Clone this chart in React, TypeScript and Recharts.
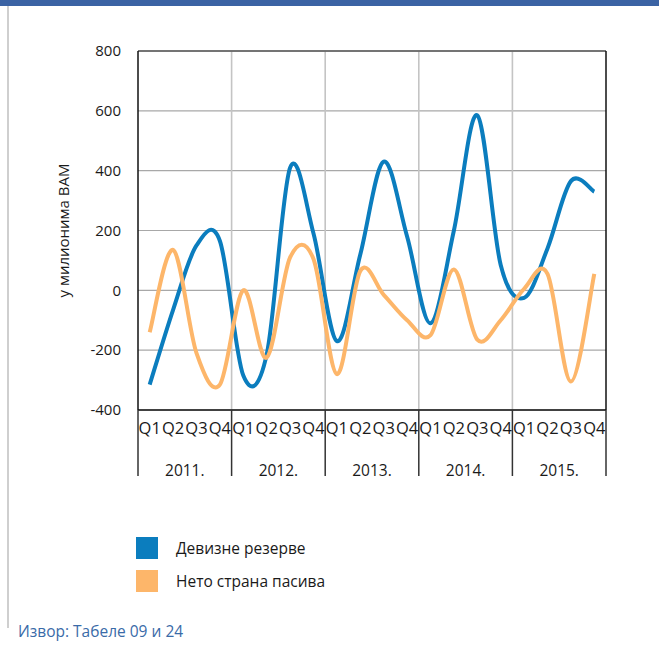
import React from "react";
import { LineChart, Line, XAxis, YAxis, CartesianGrid, ReferenceLine, Legend } from "recharts";

const quarterLabels = ["Q1", "Q2", "Q3", "Q4"];
const yearLabels = ["2011.", "2012.", "2013.", "2014.", "2015."];
const reserves = [-315, -65, 150, 165, -285, -215, 410, 190, -170, 120, 430, 180, -110, 200, 585, 85, -25, 140, 365, 330];
const netForeign = [-140, 135, -210, -315, 0, -225, 110, 105, -280, 65, -15, -100, -150, 70, -165, -100, 5, 55, -305, 55];
const yTicks = [-400, -200, 0, 200, 400, 600, 800];
const seriesNames = ["Девизне резерве", "Нето страна пасива"];
const colors = ["#0b7dbe", "#fdb66a"];

const FONT = "'Open Sans', 'Noto Sans', sans-serif";

const data = reserves.map((v, i) => ({
  pos: i + 0.5,
  reserves: v,
  netForeign: netForeign[i],
}));

const nQ = quarterLabels.length;
const total = yearLabels.length * nQ;
const xTicks: number[] = [];
for (let y = 0; y <= yearLabels.length; y++) {
  xTicks.push(y * nQ);
  if (y < yearLabels.length) {
    for (let q = 0; q < nQ; q++) {
      xTicks.push(y * nQ + q + 0.5);
      if (q === 1) xTicks.push(y * nQ + nQ / 2);
    }
  }
}
const yearBoundaries = Array.from({ length: yearLabels.length - 1 }, (_, i) => (i + 1) * nQ);

// Catmull-Rom style smoothing (like spreadsheet "smoothed line")
const smoothCurve: any = (context: any) => {
  let pts: number[][] = [];
  return {
    areaStart() {},
    areaEnd() {},
    lineStart() {
      pts = [];
    },
    point(x: number, y: number) {
      pts.push([+x, +y]);
    },
    lineEnd() {
      if (!pts.length) return;
      context.moveTo(pts[0][0], pts[0][1]);
      for (let i = 0; i < pts.length - 1; i++) {
        const p0 = pts[i - 1] || pts[i];
        const p1 = pts[i];
        const p2 = pts[i + 1];
        const p3 = pts[i + 2] || p2;
        const c1x = p1[0] + (p2[0] - p0[0]) / 6;
        const c1y = p1[1] + (p2[1] - p0[1]) / 6;
        const c2x = p2[0] - (p3[0] - p1[0]) / 6;
        const c2y = p2[1] - (p3[1] - p1[1]) / 6;
        context.bezierCurveTo(c1x, c1y, c2x, c2y, p2[0], p2[1]);
      }
    },
  };
};

const XTick = (props: any) => {
  const { x, y, payload } = props;
  const v = payload.value as number;
  if (Number.isInteger(v) && v % nQ === 0) {
    return <line x1={x} y1={y} x2={x} y2={y + 66} stroke="#333" strokeWidth={1.5} />;
  }
  if (Number.isInteger(v)) {
    const yi = Math.floor(v / nQ);
    return (
      <text x={x} y={y + 66} textAnchor="middle" fontSize={15.5} fill="#1a1a1a" fontFamily={FONT}>
        {yearLabels[yi]}
      </text>
    );
  }
  const qi = Math.floor(v) % nQ;
  return (
    <text x={x} y={y + 23.5} textAnchor="middle" fontSize={16.5} fill="#1a1a1a" fontFamily={FONT}>
      {quarterLabels[qi]}
    </text>
  );
};

const LegendContent = () => (
  <div style={{ fontFamily: FONT }}>
    {seriesNames.map((n, i) => (
      <div key={n} style={{ display: "flex", alignItems: "center", height: 22, marginBottom: i === 0 ? 11 : 0 }}>
        <div style={{ width: 22, height: 22, background: colors[i] }} />
        <span style={{ marginLeft: 18, fontSize: 15.5, color: "#1a1a1a" }}>{n}</span>
      </div>
    ))}
  </div>
);

export default function App() {
  return (
    <div style={{ position: "absolute", left: 0, top: 0, width: 659, height: 645, overflow: "hidden", background: "#fff" }}>
      <div style={{ position: "absolute", left: 0, top: 0, width: 659, height: 6, background: "#3b63a4" }} />
      <div style={{ position: "absolute", left: 7, top: 6, width: 2, height: 622, background: "#cfcfcf" }} />
      <div style={{ position: "absolute", left: 0, top: 0 }}>
        <LineChart
          width={659}
          height={645}
          data={data}
          margin={{ top: 51, right: 53, left: 78, bottom: 165 }}
          style={{ fontFamily: FONT }}
        >
          <CartesianGrid horizontal={true} vertical={false} stroke="#a8a8a8" strokeWidth={1.2} />
          {yearBoundaries.map((b) => (
            <ReferenceLine key={b} x={b} stroke="#c4c4c4" strokeWidth={1.6} />
          ))}
          <ReferenceLine y={800} stroke="#555" strokeWidth={1.5} />
          <ReferenceLine x={total} stroke="#111" strokeWidth={1.5} />
          <XAxis
            dataKey="pos"
            type="number"
            domain={[0, total]}
            ticks={xTicks}
            interval={0}
            tick={<XTick />}
            tickLine={false}
            tickSize={0}
            tickMargin={0}
            axisLine={{ stroke: "#111", strokeWidth: 1.5 }}
            height={70}
          />
          <YAxis
            domain={[-400, 800]}
            ticks={yTicks}
            interval={0}
            width={60}
            tickLine={false}
            tickSize={0}
            tickMargin={17}
            axisLine={{ stroke: "#111", strokeWidth: 1.5 }}
            tick={{ fontSize: 15, fill: "#1a1a1a", fontFamily: FONT }}
            label={{
              value: "у милионима ВАМ",
              angle: -90,
              position: "insideLeft",
              offset: -14,
              style: { fontSize: 15, fill: "#1a1a1a", fontFamily: FONT, textAnchor: "middle" },
            }}
          />
          <Line
            dataKey="reserves"
            name={seriesNames[0]}
            type={smoothCurve}
            stroke={colors[0]}
            strokeWidth={4}
            dot={false}
            activeDot={false}
            isAnimationActive={false}
          />
          <Line
            dataKey="netForeign"
            name={seriesNames[1]}
            type={smoothCurve}
            stroke={colors[1]}
            strokeWidth={4}
            dot={false}
            activeDot={false}
            isAnimationActive={false}
          />
          <Legend
            layout="vertical"
            align="center"
            verticalAlign="middle"
            content={<LegendContent />}
            wrapperStyle={{ position: "absolute", left: 136, top: 537, width: 300, height: 60 }}
          />
        </LineChart>
      </div>
      <div
        style={{
          position: "absolute",
          left: 18,
          top: 624,
          fontFamily: FONT,
          fontSize: 15.5,
          lineHeight: 1,
          color: "#3a6ba8",
          whiteSpace: "nowrap",
        }}
      >
        Извор: Табеле 09 и 24
      </div>
    </div>
  );
}
